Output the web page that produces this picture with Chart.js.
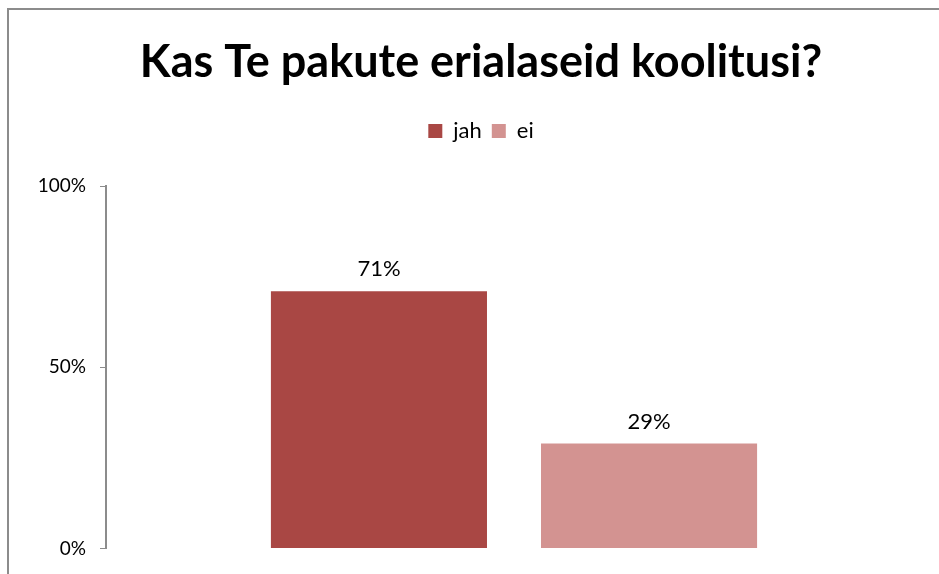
<!DOCTYPE html>
<html lang="et">
<head>
<meta charset="UTF-8">
<title>Kas Te pakute erialaseid koolitusi?</title>
<script src="https://cdn.jsdelivr.net/npm/chart.js"></script>
<style>
  body { margin: 0; background: #fff; }
  .wrap { position: relative; width: 939px; height: 574px; overflow: hidden; }
  .frame { position: absolute; left: 7px; top: 8px; width: 1000px; height: 700px; border: 2px solid #8c8c8c; pointer-events: none; }
</style>
</head>
<body>
<div class="wrap">
  <canvas id="chart" width="939" height="574"></canvas>
  <div class="frame"></div>
</div>
<script>
const titleText = 'Kas Te pakute erialaseid koolitusi?';
const categories = [''];
const seriesNames = ['jah', 'ei'];
const seriesValues = [[71], [29]];
const seriesColors = ['#A94744', '#D39391'];
const yTicks = [0, 50, 100];

const font = 'Lato, "Open Sans", sans-serif';

// value labels above bars
const barLabels = {
  id: 'barLabels',
  afterDatasetsDraw(chart) {
    const ctx = chart.ctx;
    ctx.save();
    ctx.font = '22px ' + font;
    ctx.fillStyle = '#000';
    ctx.textAlign = 'center';
    ctx.textBaseline = 'bottom';
    chart.data.datasets.forEach((ds, i) => {
      chart.getDatasetMeta(i).data.forEach((bar, j) => {
        ctx.fillText(ds.data[j] + '%', bar.x, bar.y - 11);
      });
    });
    ctx.restore();
  }
};

// extra space under the legend, and title/legend centred on the frame
const headerTweak = {
  id: 'headerTweak',
  beforeLayout(chart) {
    const lg = chart.legend;
    if (lg && !lg._gapPatched) {
      const fit = lg.fit;
      lg.fit = function () { fit.call(this); this.height += 34; };
      lg._gapPatched = true;
    }
  },
  afterLayout(chart) {
    [chart.titleBlock, chart.legend].forEach(b => {
      if (b) { b.left += 20; b.right += 20; }
    });
  }
};

new Chart(document.getElementById('chart'), {
  type: 'bar',
  data: {
    labels: categories,
    datasets: seriesNames.map((name, i) => ({
      label: name,
      data: seriesValues[i],
      backgroundColor: seriesColors[i],
      categoryPercentage: 0.662,
      barPercentage: 0.8
    }))
  },
  options: {
    responsive: false,
    animation: false,
    layout: { padding: { left: 0, right: 17, top: 0, bottom: 16 } },
    plugins: {
      title: {
        display: true,
        text: titleText,
        color: '#000',
        font: { family: font, size: 45, weight: 'bold' },
        padding: { top: 35, bottom: 21 }
      },
      legend: {
        position: 'top',
        labels: {
          color: '#000',
          font: { family: font, size: 22 },
          boxWidth: 14,
          boxHeight: 14,
          padding: 10
        }
      },
      tooltip: { enabled: false }
    },
    scales: {
      x: {
        grid: { display: false, drawTicks: false },
        border: { display: false },
        ticks: { display: false }
      },
      y: {
        min: 0,
        max: 100,
        afterBuildTicks(axis) { axis.ticks = yTicks.map(v => ({ value: v })); },
        afterFit(axis) { axis.width = 106; },
        grid: { display: true, drawOnChartArea: false, drawTicks: true, tickLength: 6, color: '#8c8c8c', tickColor: '#8c8c8c' },
        border: { display: true, color: '#8c8c8c', width: 2 },
        ticks: {
          color: '#000',
          font: { family: font, size: 19 },
          padding: 14,
          callback: v => v + '%'
        }
      }
    }
  },
  plugins: [barLabels, headerTweak]
});
</script>
</body>
</html>
